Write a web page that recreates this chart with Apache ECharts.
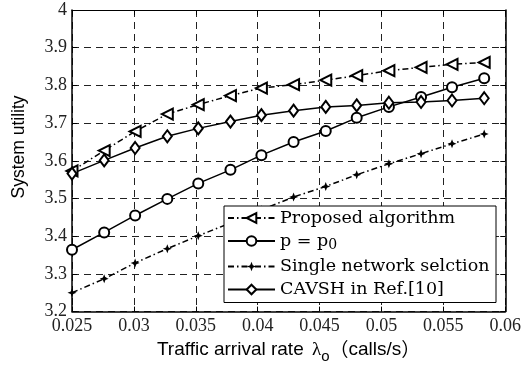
<!DOCTYPE html>
<html>
<head>
<meta charset="utf-8">
<script src="https://cdn.jsdelivr.net/npm/echarts@6/dist/echarts.min.js"></script>
<style>
  html, body { margin: 0; padding: 0; background: #fff; }
  #chart { width: 524px; height: 369px; }
</style>
</head>
<body>
<div id="chart"></div>
<script>
// Traffic arrival rate (calls/s)
var arrivalRate = [0.025, 0.0276, 0.0301, 0.0327, 0.0352, 0.0378, 0.0403, 0.0429, 0.0455, 0.0480, 0.0506, 0.0532, 0.0557, 0.0583];

// System utility for each scheme
var proposedUtility = [3.573, 3.627, 3.678, 3.724, 3.749, 3.773, 3.793, 3.802, 3.814, 3.826, 3.839, 3.848, 3.856, 3.861];
var fixedPUtility   = [3.364, 3.410, 3.455, 3.499, 3.540, 3.576, 3.615, 3.650, 3.679, 3.714, 3.743, 3.769, 3.795, 3.819];
var singleUtility   = [3.250, 3.287, 3.329, 3.367, 3.401, 3.435, 3.470, 3.504, 3.532, 3.563, 3.592, 3.619, 3.645, 3.671];
var cavshUtility    = [3.566, 3.601, 3.634, 3.665, 3.686, 3.704, 3.721, 3.733, 3.743, 3.747, 3.754, 3.756, 3.760, 3.766];

var seriesNames = ['Proposed algorithm', 'p = p0', 'Single network selction', 'CAVSH in Ref.[10]'];

// Tick labels
var xTickLabels = ['0.025', '0.03', '0.035', '0.04', '0.045', '0.05', '0.055', '0.06'];
var yTickLabels = ['3.2', '3.3', '3.4', '3.5', '3.6', '3.7', '3.8', '3.9', '4'];

function pairs(ys) {
  return ys.map(function (y, i) { return [arrivalRate[i], y]; });
}

var SERIF = '"Liberation Serif", "DejaVu Serif", serif';
var WIDE_SERIF = '"DejaVu Serif", "Liberation Serif", serif';
var SANS = '"Liberation Sans", Arial, sans-serif';
var CJK = '"Noto Sans CJK SC", sans-serif';
var dashDot = [6, 3, 1.5, 3];
var star = 'path://M0,-5 L1.4,-1.4 L5,0 L1.4,1.4 L0,5 L-1.4,1.4 L-5,0 L-1.4,-1.4 Z';

var gridLine = { show: true, lineStyle: { color: '#222', width: 1, type: [7, 5] } };
var axisLine = { show: true, onZero: false, lineStyle: { color: '#000', width: 1.5 } };

var chart = echarts.init(document.getElementById('chart'), null, { renderer: 'canvas' });

chart.setOption({
  backgroundColor: '#fff',
  animation: false,
  grid: { left: 72, right: 16, top: 10, bottom: 53 },
  xAxis: [{
    type: 'value', min: 0.025, max: 0.06, interval: 0.005,
    axisLine: axisLine,
    axisTick: { show: true, inside: true, length: 5, lineStyle: { color: '#000' } },
    splitLine: gridLine,
    axisLabel: {
      margin: 6, color: '#222', fontFamily: SERIF, fontSize: 18,
      formatter: function (v) { return xTickLabels[Math.round((v - 0.025) / 0.005)]; }
    },
    name: '{t|Traffic arrival rate }{l|λ}{s|o}{p|（}{t|calls/s}{p|）}',
    nameLocation: 'middle', nameGap: 24,
    nameTextStyle: {
      rich: {
        t: { fontFamily: SANS, fontSize: 19, color: '#000' },
        p: { fontFamily: CJK, fontSize: 19, color: '#000' },
        l: { fontFamily: SERIF, fontSize: 19, color: '#000', padding: [0, 0, 0, 3] },
        s: { fontFamily: SANS, fontSize: 15, color: '#000', padding: [13, 0, 0, 0] }
      }
    }
  }, {
    type: 'value', position: 'top', min: 0.025, max: 0.06, interval: 0.005,
    axisLine: { show: true, onZero: false, lineStyle: { color: '#000', width: 1.2 } },
    axisTick: { show: true, inside: true, length: 5, lineStyle: { color: '#000' } },
    axisLabel: { show: false }, splitLine: { show: false }
  }],
  yAxis: [{
    type: 'value', min: 3.2, max: 4, interval: 0.1,
    axisLine: axisLine,
    axisTick: { show: true, inside: true, length: 5, lineStyle: { color: '#000' } },
    splitLine: gridLine,
    axisLabel: {
      margin: 5, color: '#222', fontFamily: SERIF, fontSize: 18,
      formatter: function (v) { return yTickLabels[Math.round((v - 3.2) / 0.1)]; }
    }
  }, {
    type: 'value', position: 'right', min: 3.2, max: 4, interval: 0.1,
    axisLine: { show: true, onZero: false, lineStyle: { color: '#000', width: 1.5 } },
    axisTick: { show: true, inside: true, length: 5, lineStyle: { color: '#000' } },
    axisLabel: { show: false }, splitLine: { show: false }
  }],
  graphic: [{
    type: 'text', x: 19, y: 147, rotation: Math.PI / 2,
    style: {
      text: 'System utility', fill: '#000',
      font: '17.5px ' + SANS, align: 'center', verticalAlign: 'middle'
    }
  }],
  legend: {
    left: 224, top: 206, orient: 'vertical',
    backgroundColor: '#fff', borderColor: '#000', borderWidth: 1,
    padding: [3, 6, 4, 3], itemGap: 5,
    itemWidth: 47, itemHeight: 12,
    data: seriesNames,
    formatter: function (name) {
      if (name === 'p = p0') return '{a|p = p}{s|0}';
      return '{a|' + name + '}';
    },
    textStyle: {
      color: '#000', fontFamily: WIDE_SERIF, fontSize: 17.5,
      rich: {
        a: { fontFamily: WIDE_SERIF, fontSize: 17.5, color: '#000' },
        s: { fontFamily: WIDE_SERIF, fontSize: 14, color: '#000', padding: [9, 0, 0, 0] }
      }
    }
  },
  series: [{
    name: seriesNames[0], type: 'line', data: pairs(proposedUtility),
    symbol: 'emptyTriangle', symbolSize: 11, symbolRotate: 90,
    lineStyle: { color: '#000', width: 1.5, type: dashDot },
    itemStyle: { color: '#000', borderWidth: 1.5 }
  }, {
    name: seriesNames[1], type: 'line', data: pairs(fixedPUtility),
    symbol: 'emptyCircle', symbolSize: 10,
    lineStyle: { color: '#000', width: 1.5, type: 'solid' },
    itemStyle: { color: '#000', borderWidth: 1.5 }
  }, {
    name: seriesNames[2], type: 'line', data: pairs(singleUtility),
    symbol: star, symbolSize: 9,
    lineStyle: { color: '#000', width: 1.5, type: dashDot },
    itemStyle: { color: '#000' }
  }, {
    name: seriesNames[3], type: 'line', data: pairs(cavshUtility),
    symbol: 'emptyDiamond', symbolSize: [9, 12],
    lineStyle: { color: '#000', width: 1.5, type: 'solid' },
    itemStyle: { color: '#000', borderWidth: 1.5 }
  }]
});

// Stretch the legend box to a fixed outer width
var legendModel = chart.getModel().getComponent('legend');
var legendView = chart.getViewOfComponentModel(legendModel);
var rect = legendView.group.getBoundingRect();
var extra = Math.max(0, 273 - rect.width);
chart.setOption({ legend: { padding: [3, 6 + extra, 4, 3] } });
</script>
</body>
</html>
